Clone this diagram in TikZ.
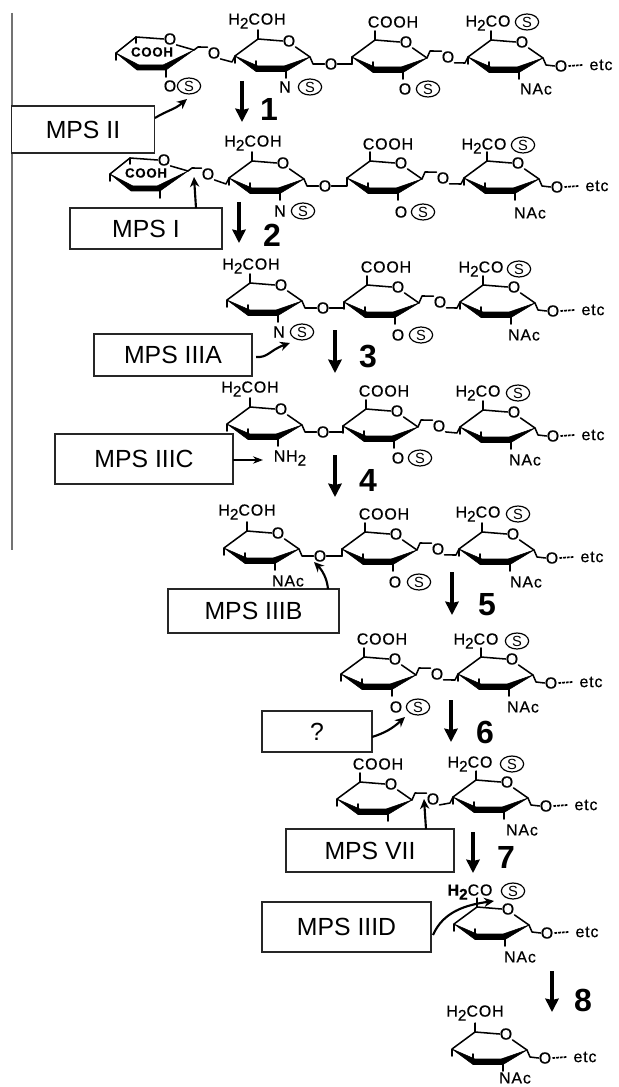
\documentclass[tikz,border=0pt]{standalone}
\usepackage{fontspec}
\setmainfont{Liberation Sans}
\newfontfamily\chemf[LetterSpace=5,FakeBold=0.5]{Liberation Sans}
\usetikzlibrary{arrows.meta,calc,shapes.geometric}
\newcount\lc
\tikzset{
  x=0.75pt,y=-0.75pt,
  bondl/.style={line width=1.15pt,line join=round,line cap=round},
  wedge/.style={fill=black,draw=black,line width=0.4pt,line join=round},
  chem/.style={inner sep=0pt,font=\chemf\fontsize{12}{12}\selectfont},
  sulf/.style={ellipse,draw,line width=0.9pt,inner sep=0pt,minimum width=17.5pt,minimum height=12pt,font=\fontsize{11}{11}\selectfont},
  mps/.style={rectangle,draw=black!85,fill=white,line width=1.1pt,inner sep=0pt,font=\fontsize{18.6}{20}\selectfont},
  num/.style={inner sep=0pt,font=\bfseries\fontsize{24}{26}\selectfont},
  react/.style={line width=2.5pt,-{Stealth[length=10pt,width=10pt,inset=1pt]}},
  enz/.style={line width=1.6pt,-{Stealth[length=7.5pt,width=7pt]}},
  etcdash/.style={line width=1.3pt,dash pattern=on 2pt off 0.8pt},
}
\newcommand\lab[3]{\global\advance\lc by 1 \node[chem] (t\the\lc) at (#1,#2) {#3};}
\newcommand\sulfur[2]{\global\advance\lc by 1 \node[sulf] (t\the\lc) at (#1,#2) {S};}
\newcommand\subtwo{\raisebox{-3pt}{\fontsize{11.5}{11}\selectfont 2}}
% sugar ring; coordinate of the ring oxygen given
\newcommand\sugar[3]{\begin{scope}[shift={(#2,#3)}]
  \node[chem] (#1O) at (0,0) {O};
  \coordinate (#1L) at (-54,15);
  \coordinate (#1R) at (21,16);
  \draw[bondl] (-31,-11) -- (-31,-2) -- (#1O.west);
  \draw[bondl] (-31,-2) -- (#1L) -- ++(0,7);
  \draw[bondl] (#1O.south east) -- (#1R);
  \fill[wedge] (#1L) -- (-33,30.5) -- (-3,30.5) -- (#1R) -- (-5,25) -- (-31,25) -- cycle;
  \draw[bondl] (-33,20) -- (-33,28);
  \draw[bondl] (-3,28) -- (-3,37);
\end{scope}}
% iduronate ring, other conformation
\newcommand\ido[3]{\begin{scope}[shift={(#2,#3)}]
  \node[chem] (#1O) at (0,0) {O};
  \coordinate (#1L) at (-54,14);
  \coordinate (#1R) at (24,11);
  \draw[bondl] (#1L) -- (-34,-2) -- (#1O.west);
  \draw[bondl] (-34,-2) -- ++(0,6);
  \draw[bondl] (#1L) -- ++(0,7);
  \draw[bondl] (#1O.south east) -- (#1R);
  \fill[wedge] (#1L) -- (-33,31) -- (-4,31) -- (#1R) -- (-7,26) -- (-31,26) -- cycle;
  \draw[bondl] (-4,28) -- (-4,38);
  \node[chem,font=\chemf\bfseries\fontsize{10}{11}\selectfont] (#1C) at (-18,13) {COOH};
\end{scope}}
\newcommand\linkA[2]{%
  \node[chem] (#1x) at ($(#1R)+(21,7)$) {O};
  \draw[bondl] (#1R) -- ++(3,7) -- (#1x.west);
  \draw[bondl] (#1x.east) -| (#2L);}
\newcommand\linkB[2]{%
  \node[chem] (#1x) at ($(#1R)+(21,-1)$) {O};
  \draw[bondl] (#1R) -- ++(3,-7) -- (#1x.north west);
  \draw[bondl] (#1x.south east) -- ($(#2L)+(-3,6)$) -- (#2L);}
\newcommand\linkC[2]{%
  \node[chem] (#1x) at ($(#1R)+(20,3)$) {O};
  \draw[bondl] (#1R) -- ++(4,-3) -- (#1x.north west);
  \draw[bondl] (#1x.south east) -- ($(#2L)+(-3,6)$) -- (#2L);}
\newcommand\etcend[1]{%
  \node[chem] (#1e) at ($(#1R)+(18,8)$) {O};
  \draw[bondl] (#1R) -- ++(3,7) -- (#1e.west);
  \draw[etcdash] ($(#1e.east)+(1,0)$) -- ++(14,-1);
  \node[chem] (#1t) at ($(#1e)+(40,-1)$) {etc};}
\newcommand\HCOH{H\subtwo COH}
\newcommand\HCO{H\subtwo CO}
\begin{document}
\begin{tikzpicture}
\useasboundingbox (0,0) rectangle (618,1087);
\fill[white] (0,0) rectangle (618,1087);
% margin rule
\coordinate (ruleA) at (12,13);
\coordinate (ruleB) at (12,550);
\draw[black!55,line width=1pt] (ruleA) -- (ruleB);

% ROW 1
\ido{a1}{170}{39}\sugar{a2}{289}{41}\sugar{a3}{406}{42}\sugar{a4}{522}{42}
\linkC{a1}{a2}\linkA{a2}{a3}\linkB{a3}{a4}\etcend{a4}
\lab{170}{86}{O}\node[sulf] (a1s) at (189,86) {S};
\lab{257}{21}{\HCOH}\lab{285}{87}{N}\sulfur{310}{87}
\lab{393}{22}{COOH}\lab{405}{89}{O}\sulfur{428}{89}
\lab{488}{23}{\HCO}\sulfur{527}{22}\lab{536}{89}{NAc}
% ROW 2
\ido{b1}{164}{160}\sugar{b2}{283}{163}\sugar{b3}{401}{163}\sugar{b4}{518}{163}
\linkC{b1}{b2}\linkA{b2}{b3}\linkB{b3}{b4}\etcend{b4}
\lab{253}{143}{\HCOH}\lab{280}{211}{N}\node[sulf] (b2s) at (303,211) {S};
\lab{388}{144}{COOH}\lab{401}{212}{O}\sulfur{423}{212}
\lab{484}{146}{\HCO}\sulfur{523}{145}\lab{530}{213}{NAc}
% ROW 3
\sugar{c2}{281}{285}\sugar{c3}{398}{287}\sugar{c4}{514}{287}
\linkA{c2}{c3}\linkB{c3}{c4}\etcend{c4}
\lab{251}{266}{\HCOH}\lab{279}{332}{N}\node[sulf] (c2s) at (302,332) {S};
\lab{386}{267}{COOH}\lab{398}{335}{O}\sulfur{421}{335}
\lab{481}{269}{\HCO}\sulfur{519}{269}\lab{524}{335}{NAc}
% ROW 4
\sugar{d2}{281}{409}\sugar{d3}{397}{411}\sugar{d4}{514}{412}
\linkA{d2}{d3}\linkB{d3}{d4}\etcend{d4}
\lab{250}{389}{\HCOH}\node[chem] (d2n) at (290,458) {NH\subtwo};
\lab{384}{391}{COOH}\lab{398}{458}{O}\sulfur{420}{458}
\lab{478}{393}{\HCO}\sulfur{518}{393}\lab{525}{460}{NAc}
% ROW 5
\sugar{e2}{278}{533}\sugar{e3}{396}{534}\sugar{e4}{513}{534}
\linkA{e2}{e3}\linkB{e3}{e4}\etcend{e4}
\lab{247}{512}{\HCOH}\lab{288}{581}{NAc}
\lab{384}{514}{COOH}\lab{395}{582}{O}\sulfur{419}{582}
\lab{478}{514}{\HCO}\sulfur{518}{514}\lab{526}{582}{NAc}
% ROW 6
\sugar{f3}{395}{659}\sugar{f4}{512}{659}
\linkB{f3}{f4}\etcend{f4}
\lab{382}{639}{COOH}\lab{396}{707}{O}\node[sulf] (f3s) at (418,707) {S};
\lab{476}{641}{\HCO}\sulfur{517}{641}\lab{523}{707}{NAc}
% ROW 7
\sugar{g3}{391}{784}\sugar{g4}{507}{782}
\linkB{g3}{g4}\etcend{g4}
\lab{378}{764}{COOH}
\lab{470}{764}{\HCO}\sulfur{512}{764}\lab{522}{830}{NAc}
% ROW 8
\sugar{h4}{508}{909}\etcend{h4}
\node[chem] (h4c) at (470,892) {\textbf{H\subtwo}CO};\sulfur{513}{891}\lab{520}{957}{NAc}
% ROW 9
\sugar{i4}{506}{1034}\etcend{i4}
\lab{475}{1013}{\HCOH}\lab{515}{1078}{NAc}

% enzyme boxes
\node[mps,minimum width=107pt,minimum height=35pt] (mpsii) at (83,129.5) {MPS II};
\node[mps,minimum width=114pt,minimum height=30.5pt] (mpsi) at (146,228.5) {MPS I};
\node[mps,minimum width=118.5pt,minimum height=31.5pt] (mpsiiia) at (173,355) {MPS IIIA};
\node[mps,minimum width=133.5pt,minimum height=37.5pt] (mpsiiic) at (144,459) {MPS IIIC};
\node[mps,minimum width=128pt,minimum height=33pt] (mpsiiib) at (253.5,611) {MPS IIIB};
\node[mps,minimum width=82.5pt,minimum height=31pt] (mpsq) at (317,731.5) {?};
\node[mps,minimum width=126pt,minimum height=32pt] (mpsvii) at (370,850.5) {MPS VII};
\node[mps,minimum width=127pt,minimum height=37.5pt] (mpsiiid) at (346.5,927) {MPS IIID};

% enzyme arrows
\coordinate (eIIa) at (155,118);\coordinate (eIIb) at (187,99);
\draw[enz] (eIIa) .. controls (168,110) and (174,110) .. (eIIb);
\coordinate (eIa) at (196,208);\coordinate (eIb) at (194,177);
\draw[enz] (eIa) -- (eIb);
\coordinate (eIIIAa) at (256,357);\coordinate (eIIIAb) at (290,343);
\draw[enz] (eIIIAa) .. controls (268,358) and (270,350) .. (eIIIAb);
\coordinate (eIIICa) at (233,460);\coordinate (eIIICb) at (263,460);
\draw[line width=1.1pt,-{Stealth[length=7.5pt,width=5.5pt]}] (eIIICa) -- (eIIICb);
\coordinate (eIIIBa) at (328,589);\coordinate (eIIIBb) at (314,562);
\draw[enz] (eIIIBa) .. controls (327,578) and (322,570) .. (eIIIBb);
\coordinate (eQa) at (372,737);\coordinate (eQb) at (405,717);
\draw[enz] (eQa) .. controls (385,733) and (393,728) .. (eQb);
\coordinate (eVIIa) at (426,829);\coordinate (eVIIb) at (424,799);
\draw[enz] (eVIIa) -- (eVIIb);
\coordinate (eIIIDa) at (433,935);\coordinate (eIIIDb) at (494,901);
\draw[enz] (eIIIDa) .. controls (443,912) and (465,905) .. (eIIIDb);

% reaction arrows and step numbers
\coordinate (r1a) at (242,81);\coordinate (r1b) at (242,122);\draw[react] (r1a) -- (r1b);\node[num] (n1) at (269,109) {1};
\coordinate (r2a) at (239,202);\coordinate (r2b) at (239,243);\draw[react] (r2a) -- (r2b);\node[num] (n2) at (272,235) {2};
\coordinate (r3a) at (335,330);\coordinate (r3b) at (335,373);\draw[react] (r3a) -- (r3b);\node[num] (n3) at (368,357) {3};
\coordinate (r4a) at (335,455);\coordinate (r4b) at (335,497);\draw[react] (r4a) -- (r4b);\node[num] (n4) at (368,480) {4};
\coordinate (r5a) at (452,572);\coordinate (r5b) at (452,615);\draw[react] (r5a) -- (r5b);\node[num] (n5) at (487,605) {5};
\coordinate (r6a) at (451,700);\coordinate (r6b) at (451,742);\draw[react] (r6a) -- (r6b);\node[num] (n6) at (485,732) {6};
\coordinate (r7a) at (473,832);\coordinate (r7b) at (473,873);\draw[react] (r7a) -- (r7b);\node[num] (n7) at (506,857) {7};
\coordinate (r8a) at (552,971);\coordinate (r8b) at (552,1012);\draw[react] (r8a) -- (r8b);\node[num] (n8) at (583,1000) {8};
\end{tikzpicture}
\end{document}
